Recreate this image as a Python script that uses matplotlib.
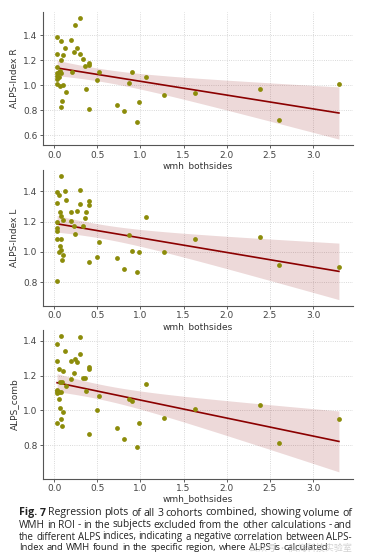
import numpy as np
import matplotlib
matplotlib.use("Agg")
import matplotlib.pyplot as plt
from matplotlib.ticker import MultipleLocator

# values (wmh volume vs ALPS index)
x_r = [0.035, 0.30, 0.243, 0.077, 0.20, 0.127, 0.263, 0.228, 0.104, 0.035, 0.297, 0.34,
       0.077, 0.40, 0.40, 0.36, 0.035, 0.205, 0.517, 0.907, 1.07, 0.035, 0.058, 0.077,
       0.035, 0.058, 0.035, 0.066, 0.035, 0.066, 0.104, 0.50, 0.87, 0.139, 0.375, 0.089,
       0.077, 0.40, 0.726, 0.815, 0.988, 0.961, 1.274, 1.637, 2.39, 2.61, 3.30]
y_r = [1.39, 1.537, 1.483, 1.357, 1.363, 1.297, 1.297, 1.266, 1.243, 1.251, 1.249, 1.209,
       1.206, 1.18, 1.166, 1.151, 1.149, 1.106, 1.106, 1.106, 1.069, 1.094, 1.109, 1.094,
       1.077, 1.066, 1.049, 1.114, 1.009, 0.994, 1.0, 1.04, 1.014, 0.946, 0.971, 0.874,
       0.826, 0.806, 0.84, 0.794, 0.863, 0.706, 0.92, 0.937, 0.969, 0.723, 1.009]

x_l = [0.077, 0.035, 0.127, 0.30, 0.058, 0.035, 0.139, 0.40, 0.40, 0.30, 0.066, 0.20,
       0.263, 0.375, 0.077, 0.363, 0.104, 0.20, 0.035, 1.07, 0.34, 0.228, 0.035, 0.035,
       0.239, 0.87, 0.035, 0.077, 1.637, 2.39, 0.517, 0.066, 0.077, 0.054, 0.907, 0.988,
       1.274, 0.104, 0.089, 0.50, 0.726, 0.40, 0.815, 0.961, 2.61, 3.30, 0.035]
y_l = [1.502, 1.393, 1.40, 1.407, 1.373, 1.325, 1.343, 1.337, 1.309, 1.316, 1.262, 1.262,
       1.269, 1.262, 1.235, 1.226, 1.214, 1.207, 1.20, 1.232, 1.173, 1.169, 1.158, 1.135,
       1.121, 1.115, 1.083, 1.085, 1.083, 1.099, 1.063, 1.042, 1.01, 1.001, 1.008, 1.001,
       1.001, 0.981, 0.949, 0.965, 0.961, 0.933, 0.886, 0.870, 0.911, 0.899, 0.809]

x_c = [0.077, 0.30, 0.035, 0.127, 0.30, 0.035, 0.20, 0.243, 0.263, 0.058, 0.104, 0.40,
       0.40, 0.228, 0.34, 0.363, 0.20, 0.066, 0.089, 1.07, 0.139, 0.035, 0.035, 0.058,
       0.077, 0.035, 0.375, 0.517, 0.87, 0.907, 0.058, 0.066, 0.50, 0.104, 0.077, 1.274,
       1.637, 2.39, 0.988, 0.035, 0.089, 0.726, 0.40, 0.815, 0.961, 2.61, 3.30]
y_c = [1.425, 1.423, 1.384, 1.343, 1.322, 1.286, 1.281, 1.297, 1.279, 1.238, 1.226, 1.247,
       1.24, 1.214, 1.188, 1.185, 1.181, 1.162, 1.162, 1.149, 1.139, 1.119, 1.11, 1.107,
       1.107, 1.101, 1.112, 1.082, 1.064, 1.055, 1.064, 1.016, 1.0, 0.989, 0.952, 0.959,
       1.007, 1.032, 0.929, 0.927, 0.911, 0.899, 0.867, 0.838, 0.787, 0.815, 0.950]

panels = [(x_r, y_r, "ALPS-Index R"), (x_l, y_l, "ALPS-Index L"), (x_c, y_c, "ALPS_comb")]

caption = ["Fig. 7 Regression plots of all 3 cohorts combined, showing volume of",
           "WMH in ROI - in the subjects excluded from the other calculations - and",
           "the different ALPS indices, indicating a negative correlation between ALPS-",
           "Index and WMH found in the specific region, where ALPS is calculated"]

fig = plt.figure(figsize=(3.66, 5.54), dpi=100)
boxes = [[0.1175, 0.738, 0.847, 0.240],
         [0.1175, 0.448, 0.847, 0.2455],
         [0.1175, 0.136, 0.847, 0.2690]]

for (xs, ys, lab), box in zip(panels, boxes):
    ax = fig.add_axes(box)
    x = np.array(xs)
    y = np.array(ys)
    b, a = np.polyfit(x, y, 1)
    xg = np.linspace(x.min(), x.max(), 100)
    yg = a + b * xg
    n = len(x)
    s = np.sqrt(np.sum((y - (a + b * x)) ** 2) / (n - 2))
    se = s * np.sqrt(1 / n + (xg - x.mean()) ** 2 / np.sum((x - x.mean()) ** 2))
    ax.fill_between(xg, yg - 2.01 * se, yg + 2.01 * se, color="#8b0000", alpha=0.15, lw=0)
    ax.plot(xg, yg, color="#8b0000", lw=1.2)
    ax.scatter(x, y, s=12, color="#8c8c0a", zorder=3, lw=0)
    ax.set_xlabel("wmh_bothsides", fontsize=6.5, labelpad=1, color="#333333")
    ax.set_ylabel(lab, fontsize=6.5, labelpad=3, color="#333333")
    ax.xaxis.set_major_locator(MultipleLocator(0.5))
    ax.yaxis.set_major_locator(MultipleLocator(0.2))
    ax.tick_params(labelsize=6.5, length=2, width=0.6, pad=2, colors="#444444")
    ax.grid(True, ls=":", lw=0.6, color="#cccccc")
    ax.set_axisbelow(True)
    for sp in ["top", "right"]:
        ax.spines[sp].set_visible(False)
    for sp in ["left", "bottom"]:
        ax.spines[sp].set_color("#555555")
        ax.spines[sp].set_linewidth(0.8)

# caption, justified by hand (shrink a line a bit if the words don't fit)
fig.canvas.draw()
rend = fig.canvas.get_renderer()
x0 = 19
W = fig.bbox.width
H = fig.bbox.height
line_y = [513, 525, 537, 548]
for i, line in enumerate(caption):
    last = i == len(caption) - 1
    x1 = 328 if last else 352
    words = line.split(" ")
    objs = []
    for j, w in enumerate(words):
        bold = i == 0 and j < 2
        t = fig.text(0, 1 - line_y[i] / H, w, fontsize=7.6, family="Open Sans",
                     weight="bold" if bold else "normal", color="#222222", va="center")
        objs.append(t)
    fs = 7.6
    while True:
        widths = [t.get_window_extent(rend).width for t in objs]
        gap = (x1 - x0 - sum(widths)) / (len(words) - 1)
        if gap >= 2.2 or fs < 6.5:
            break
        fs -= 0.1
        for t in objs:
            t.set_fontsize(fs)
    if last:
        gap = min(gap, 2.9)
    cur = x0
    for t, w in zip(objs, widths):
        t.set_x(cur / W)
        cur += w + gap

fig.text(300 / W, 1 - 548 / H, "公众号 · 脑海科技实验室", fontsize=6.5,
         family=["Noto Sans CJK SC", "DejaVu Sans"], color="#c4c4c4", alpha=0.75,
         ha="center", va="center")

fig.savefig("out.png", dpi=100)
